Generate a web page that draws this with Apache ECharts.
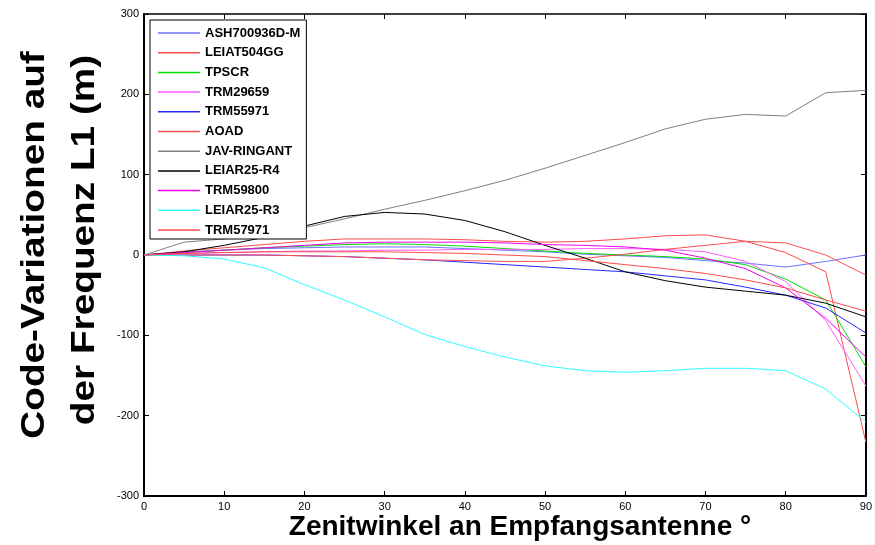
<!DOCTYPE html>
<html>
<head>
<meta charset="utf-8">
<script src="https://cdn.jsdelivr.net/npm/echarts@6/dist/echarts.min.js"></script>
<style>html,body{margin:0;padding:0;background:#fff}#c{width:875px;height:545px}</style>
</head>
<body>
<div id="c"></div>
<script>
// Zenith angles (degrees)
const angles = [0,5,10,15,20,25,30,35,40,45,50,55,60,65,70,75,80,85,90];
const xTicks = [0,10,20,30,40,50,60,70,80,90];
const yTicks = [-300,-200,-100,0,100,200,300];

const antennaNames = ['ASH700936D-M','LEIAT504GG','TPSCR','TRM29659','TRM55971','AOAD','JAV-RINGANT','LEIAR25-R4','TRM59800','LEIAR25-R3','TRM57971'];

const ash700936dm = [0,4,6,8,9,10,10,10,8,6,4,1,-1,-3,-7,-10,-15,-8,0];
const leiat504gg  = [0,5,9,13,17,20,20,20,19,17,16,17,20,24,25,17,3,-21,-233];
const tpscr       = [0,3,6,9,11,13,14,13,11,8,5,2,0,-2,-5,-12,-30,-56,-139];
const trm29659    = [0,2,3,4,5,5,6,6,7,7,7,8,8,7,4,-8,-33,-82,-163];
const trm55971    = [0,0,0,0,-1,-2,-4,-6,-9,-12,-15,-18,-21,-26,-31,-40,-50,-66,-97];
const aoad        = [0,0,0,0,-1,-2,-4,-6,-7,-8,-8,-4,1,7,12,17,15,0,-25];
const javRingant  = [0,16,20,26,34,45,57,68,80,93,108,124,140,157,169,175,173,202,205];
const leiar25r4   = [0,4,12,22,36,48,53,51,43,29,12,-4,-21,-32,-40,-45,-50,-60,-77];
const trm59800    = [0,3,6,9,12,15,16,16,16,15,13,12,10,6,-4,-17,-41,-79,-127];
const leiar25r3   = [0,-1,-5,-16,-37,-56,-77,-99,-114,-127,-138,-144,-146,-144,-141,-141,-144,-167,-208];
const trm57971    = [0,2,3,4,4,4,4,3,2,0,-2,-7,-12,-17,-23,-31,-41,-56,-70];

const seriesValues = [ash700936dm,leiat504gg,tpscr,trm29659,trm55971,aoad,javRingant,leiar25r4,trm59800,leiar25r3,trm57971];
const seriesColors = ['#6f6fff','#ff4a4a','#00e000','#ff5cff','#2828ff','#ff5050','#808080','#000000','#f000f0','#30ffff','#ff4a4a'];

const chart = echarts.init(document.getElementById('c'), null, {renderer:'canvas'});
const font = 'Liberation Sans, Arial, sans-serif';

const series = antennaNames.map((n,i)=>({
  name:n, type:'line', xAxisIndex:0, yAxisIndex:0,
  data: angles.map((a,k)=>[a, seriesValues[i][k]]),
  showSymbol:false, symbol:'none', smooth:false,
  lineStyle:{width:1, color:seriesColors[i]},
  itemStyle:{color:seriesColors[i]},
  emphasis:{disabled:true}, animation:false
}));

const tickStyle = {show:true, inside:true, length:5, lineStyle:{color:'#000', width:1}};
chart.setOption({
  animation:false,
  backgroundColor:'#fff',
  grid:{left:144, right:6, top:14, bottom:49, containLabel:false},
  xAxis:[
    {type:'value', min:0, max:90, interval:10, position:'bottom',
     axisLine:{show:true, onZero:false, lineStyle:{color:'#000', width:2}},
     axisTick:tickStyle, splitLine:{show:false},
     axisLabel:{show:true, color:'#000', fontFamily:font, fontSize:11, margin:5}},
    {type:'value', min:0, max:90, interval:10, position:'top',
     axisLine:{show:true, onZero:false, lineStyle:{color:'#000', width:1.5}},
     axisTick:tickStyle, splitLine:{show:false}, axisLabel:{show:false}}
  ],
  yAxis:[
    {type:'value', min:-300, max:300, interval:100, position:'left',
     axisLine:{show:true, onZero:false, lineStyle:{color:'#000', width:2}},
     axisTick:tickStyle, splitLine:{show:false},
     axisLabel:{show:true, color:'#000', fontFamily:font, fontSize:11, margin:5}},
    {type:'value', min:-300, max:300, interval:100, position:'right',
     axisLine:{show:true, onZero:false, lineStyle:{color:'#000', width:2}},
     axisTick:tickStyle, splitLine:{show:false}, axisLabel:{show:false}}
  ],
  legend:{
    show:true, orient:'vertical', left:150, top:20,
    data: antennaNames,
    icon:'rect', itemWidth:42, itemHeight:1.5, itemGap:5.7,
    backgroundColor:'#fff', borderColor:'#000', borderWidth:1, borderRadius:0,
    padding:[6,6,2,8],
    textStyle:{fontFamily:font, fontWeight:'bold', fontSize:13, color:'#000', lineHeight:14},
    selectedMode:false
  },
  graphic:[
    {type:'text', position:[520,527], style:{text:'Zenitwinkel an Empfangsantenne °', font:'bold 28px '+font, fill:'#000', textAlign:'center', textVerticalAlign:'middle'}, z:100},
    {type:'text', position:[35,245], rotation:Math.PI/2, scaleX:1.25, scaleY:1.05, style:{text:'Code-Variationen auf', font:'bold 31px '+font, fill:'#000', textAlign:'center', textVerticalAlign:'middle'}, z:100},
    {type:'text', position:[85,240], rotation:Math.PI/2, scaleX:1.25, scaleY:1.05, style:{text:'der Frequenz L1 (m)', font:'bold 31px '+font, fill:'#000', textAlign:'center', textVerticalAlign:'middle'}, z:100}
  ],
  series: series
});
</script>
</body>
</html>
